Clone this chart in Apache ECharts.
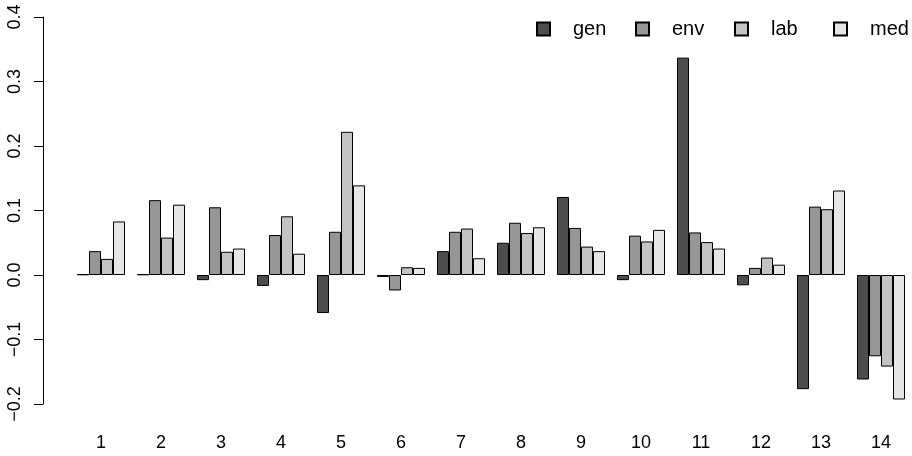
<!DOCTYPE html>
<html>
<head>
<meta charset="utf-8">
<script src="https://cdn.jsdelivr.net/npm/echarts@6/dist/echarts.min.js"></script>
<style>
  html, body { margin: 0; padding: 0; background: #fff; }
  #chart { width: 912px; height: 456px; }
</style>
</head>
<body>
<div id="chart"></div>
<script>
// groups on the x axis
var categories = ['1', '2', '3', '4', '5', '6', '7', '8', '9', '10', '11', '12', '13', '14'];
var seriesNames = ['gen', 'env', 'lab', 'med'];
// R gray.colors(4)
var barColors = ['#4D4D4D', '#969696', '#C3C3C3', '#E6E6E6'];

var gen = [0.001, 0.001, -0.008, -0.017, -0.059, -0.003, 0.037, 0.050, 0.121, -0.008, 0.337, -0.016, -0.177, -0.162];
var env = [0.037, 0.116, 0.105, 0.062, 0.067, -0.024, 0.067, 0.081, 0.073, 0.061, 0.066, 0.011, 0.106, -0.126];
var lab = [0.025, 0.058, 0.036, 0.091, 0.222, 0.012, 0.072, 0.065, 0.044, 0.052, 0.051, 0.027, 0.102, -0.142];
var med = [0.083, 0.109, 0.041, 0.033, 0.139, 0.011, 0.026, 0.074, 0.037, 0.070, 0.041, 0.016, 0.131, -0.193];

var values = [gen, env, lab, med];

var font = 'Liberation Sans, Arial, sans-serif';

var chart = echarts.init(document.getElementById('chart'));

var series = seriesNames.map(function (name, i) {
    return {
        name: name,
        type: 'bar',
        data: values[i],
        barWidth: 12,
        barGap: '0%',
        itemStyle: {
            color: barColors[i],
            borderColor: '#000',
            borderWidth: 1
        }
    };
});

// one legend per series so the columns are evenly spaced like R's legend(horiz=TRUE)
var legends = seriesNames.map(function (name, i) {
    return {
        data: [name],
        left: 536 + i * 99,
        top: 19,
        padding: 0,
        icon: 'rect',
        itemWidth: 13,
        itemHeight: 13,
        formatter: '{s|}{a|{name}}',
        textStyle: {
            fontFamily: font,
            fontSize: 20,
            color: '#000',
            rich: {
                s: { width: 18 },
                a: { fontFamily: font, fontSize: 20, color: '#000' }
            }
        }
    };
});

chart.setOption({
    animation: false,
    backgroundColor: '#fff',
    legend: legends,
    grid: {
        left: 71,
        right: 1,
        top: 17,
        bottom: 52
    },
    xAxis: {
        type: 'category',
        data: categories,
        axisLine: { show: false },
        axisTick: { show: false },
        axisLabel: {
            margin: 30,
            fontFamily: font,
            fontSize: 18,
            color: '#000'
        }
    },
    yAxis: {
        type: 'value',
        min: -0.2,
        max: 0.4,
        interval: 0.1,
        offset: 28,
        splitLine: { show: false },
        axisLine: { show: true, lineStyle: { color: '#000', width: 1 } },
        axisTick: { show: true, length: 9, lineStyle: { color: '#000', width: 1 } },
        axisLabel: {
            rotate: 90,
            margin: 19,
            fontFamily: font,
            fontSize: 18,
            color: '#000',
            formatter: function (v) {
                return v.toFixed(1).replace('-', '\u2212');
            }
        }
    },
    series: series
});
</script>
</body>
</html>
